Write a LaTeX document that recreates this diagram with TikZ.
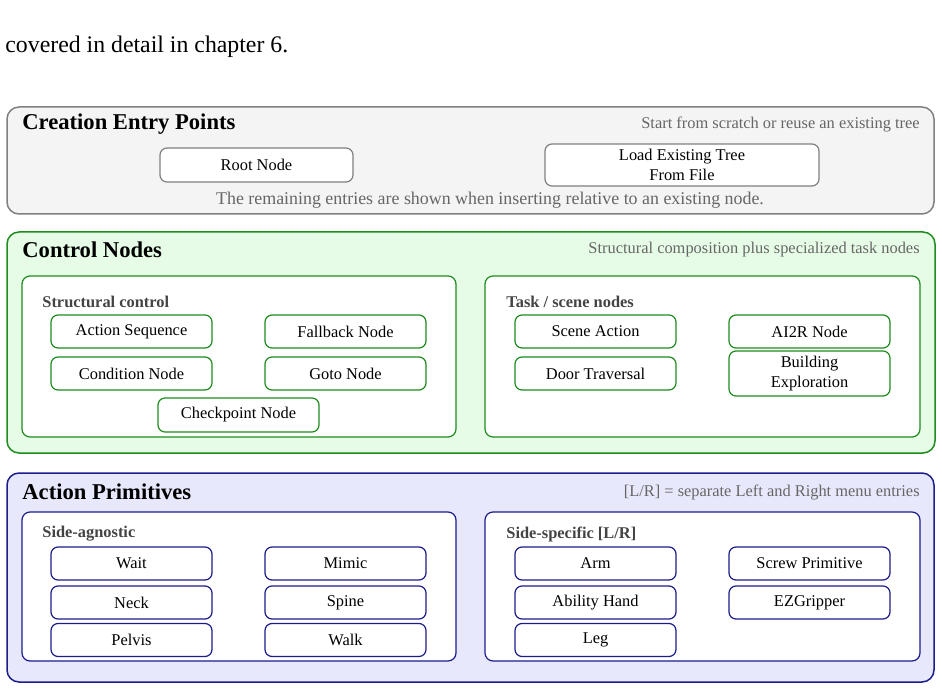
\documentclass[tikz,border=0pt]{standalone}
\usepackage{fontspec}
\setmainfont{Liberation Serif}
\usetikzlibrary{positioning}

\definecolor{entryline}{HTML}{808080}
\definecolor{entryfill}{HTML}{F4F4F4}
\definecolor{ctrlline}{HTML}{1E8C1E}
\definecolor{ctrlfill}{HTML}{E6FCE6}
\definecolor{primline}{HTML}{1C1C8C}
\definecolor{primfill}{HTML}{E8E8FC}
\definecolor{notegray}{HTML}{666666}
\definecolor{labelgray}{HTML}{444444}

\tikzset{
  panel/.style={rounded corners=6pt, line width=0.75pt},
  group/.style={rounded corners=4pt, line width=0.6pt, fill=white},
  entry/.style={draw, rounded corners=3.5pt, line width=0.6pt, fill=white,
    inner sep=1pt, align=center,
    font=\fontsize{8.2}{9.7}\selectfont,
    minimum width=80.5pt, minimum height=16.5pt},
  paneltitle/.style={anchor=west, inner sep=0pt,
    font=\fontsize{11.3}{13}\selectfont\bfseries},
  panelnote/.style={anchor=east, inner sep=0pt, text=notegray,
    font=\fontsize{8.2}{9.7}\selectfont},
  grouplabel/.style={anchor=west, inner sep=0pt, text=labelgray,
    font=\fontsize{8.2}{9.7}\selectfont\bfseries}
}

\begin{document}
\begin{tikzpicture}[x=0.5pt, y=-0.5pt]
\useasboundingbox (0,0) rectangle (942,689);

\node[anchor=base west, inner sep=0pt, font=\fontsize{11.9}{14}\selectfont]
  (intro) at (5,53) {covered in detail in chapter 6.};

% creation entry points
\draw[panel, draw=entryline, fill=entryfill] (7,107) rectangle (934,214);
\node[paneltitle] (entrytitle) at (22,124) {Creation Entry Points};
\node[panelnote] (entrynote) at (920,124) {Start from scratch or reuse an existing tree};
\node[entry, draw=entryline, minimum width=96.5pt, minimum height=17pt]
  (root) at (256.5,165) {Root Node};
\node[entry, draw=entryline, minimum width=137pt, minimum height=21pt]
  (load) at (682,165) {Load Existing Tree\\From File};
\node[panelnote, anchor=center, font=\fontsize{8.95}{10.5}\selectfont]
  (entryhint) at (490,200)
  {The remaining entries are shown when inserting relative to an existing node.};

% control nodes
\draw[panel, draw=ctrlline, fill=ctrlfill] (7,232) rectangle (935,453);
\node[paneltitle] (ctrltitle) at (22,250) {Control Nodes};
\node[panelnote] (ctrlnote) at (920,250) {Structural composition plus specialized task nodes};
\draw[group, draw=ctrlline] (22,276) rectangle (456,437);
\draw[group, draw=ctrlline] (485,276) rectangle (920,437);
\node[grouplabel] (structlabel) at (42,302) {Structural control};
\node[grouplabel] (tasklabel) at (506,302) {Task / scene nodes};

\node[entry, draw=ctrlline] (seq) at (131.5,331.5) {Action Sequence};
\node[entry, draw=ctrlline] (fallback) at (345.5,331.5) {Fallback Node};
\node[entry, draw=ctrlline] (cond) at (131.5,373.5) {Condition Node};
\node[entry, draw=ctrlline] (goto) at (345.5,373.5) {Goto Node};
\node[entry, draw=ctrlline, minimum height=17pt] (checkpt) at (238.5,415) {Checkpoint Node};

\node[entry, draw=ctrlline] (scene) at (595.5,331.5) {Scene Action};
\node[entry, draw=ctrlline] (aitwor) at (809.5,331.5) {AI2R Node};
\node[entry, draw=ctrlline] (door) at (595.5,373.5) {Door Traversal};
\node[entry, draw=ctrlline, minimum height=22.5pt] (explore) at (809.5,373.5) {Building\\Exploration};

% action primitives
\draw[panel, draw=primline, fill=primfill] (7,473) rectangle (934,682);
\node[paneltitle] (primtitle) at (22,492) {Action Primitives};
\node[panelnote] (primnote) at (920,492) {[L/R] = separate Left and Right menu entries};
\draw[group, draw=primline] (22,512) rectangle (456,661);
\draw[group, draw=primline] (485,512) rectangle (920,661);
\node[grouplabel] (agnlabel) at (42,534) {Side-agnostic};
\node[grouplabel] (sidelabel) at (506,534) {Side-specific [L/R]};

\node[entry, draw=primline] (wait) at (131.5,563.5) {Wait};
\node[entry, draw=primline] (neck) at (131.5,602.5) {Neck};
\node[entry, draw=primline] (pelvis) at (131.5,640) {Pelvis};
\node[entry, draw=primline] (mimic) at (345.5,563.5) {Mimic};
\node[entry, draw=primline] (spine) at (345.5,602.5) {Spine};
\node[entry, draw=primline] (walk) at (345.5,640) {Walk};

\node[entry, draw=primline] (arm) at (595.5,563.5) {Arm};
\node[entry, draw=primline] (hand) at (595.5,602.5) {Ability Hand};
\node[entry, draw=primline] (leg) at (595.5,640) {Leg};
\node[entry, draw=primline] (screw) at (809.5,563.5) {Screw Primitive};
\node[entry, draw=primline] (gripper) at (809.5,602.5) {EZGripper};
\end{tikzpicture}
\end{document}
